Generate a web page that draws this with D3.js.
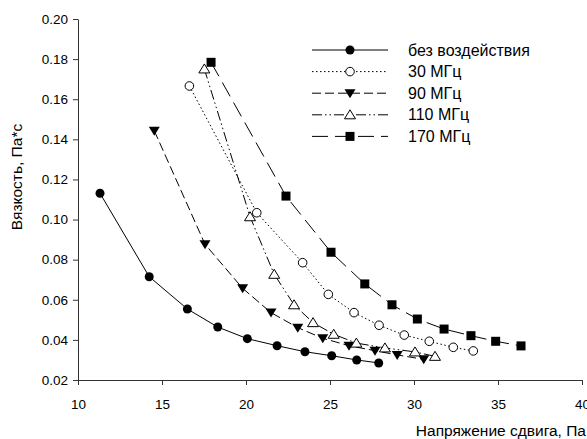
<!DOCTYPE html>
<html><head><meta charset="utf-8">
<script src="https://cdn.jsdelivr.net/npm/d3@7"></script>
<style>body{margin:0;background:#fff}svg{display:block}text{font-family:"Liberation Sans",Arial,sans-serif;fill:#000}</style>
</head><body><svg id="c" width="587" height="439"></svg>
<script>
const seriesNames = ["без воздействия","30 МГц","90 МГц","110 МГц","170 МГц"];
const x0 = [11.31,14.24,16.51,18.32,20.08,21.85,23.51,25.10,26.59,27.90];
const y0 = [0.1131,0.0715,0.0554,0.0464,0.0406,0.0371,0.0341,0.0321,0.0300,0.0285];
const x30 = [16.63,20.64,23.37,24.90,26.43,27.92,29.42,30.91,32.34,33.53];
const y30 = [0.1666,0.1034,0.0785,0.0627,0.0536,0.0473,0.0424,0.0393,0.0363,0.0345];
const x90 = [14.54,17.56,19.80,21.49,23.08,24.57,26.13,27.68,29.00,30.58];
const y90 = [0.1443,0.0877,0.0657,0.0536,0.0461,0.0408,0.0371,0.0346,0.0325,0.0303];
const x110 = [17.52,20.24,21.68,22.86,23.99,25.22,26.57,28.27,30.06,31.25];
const y110 = [0.1751,0.1014,0.0727,0.0575,0.0486,0.0428,0.0384,0.0360,0.0340,0.0318];
const x170 = [17.92,22.38,25.06,27.07,28.69,30.20,31.79,33.39,34.86,36.37];
const y170 = [0.1784,0.1117,0.0837,0.0679,0.0575,0.0504,0.0454,0.0421,0.0393,0.0370];
const xTicks = [10,15,20,25,30,35,40];
const yTicks = [0.02,0.04,0.06,0.08,0.10,0.12,0.14,0.16,0.18,0.20];
const xTitle = "Напряжение сдвига, Па";
const yTitle = "Вязкость, Па*с";

const svg = d3.select("#c");
const L=78, R=582, T=19, B=380;
const x = d3.scaleLinear().domain([10,40]).range([L,R]);
const y = d3.scaleLinear().domain([0.02,0.20]).range([B,T]);

const xs=[x0,x30,x90,x110,x170], ys=[y0,y30,y90,y110,y170];
const dashes=[null,"1.5,2.5","9,4","10,3,1.5,3,1.5,3","16,7"];
const markers=["circleF","circleO","triDown","triUp","square"];

function drawMarker(g, type, cx, cy){
  if(type==="circleF") g.append("circle").attr("cx",cx).attr("cy",cy).attr("r",4.5).attr("fill","#000");
  else if(type==="circleO") g.append("circle").attr("cx",cx).attr("cy",cy).attr("r",4.3).attr("fill","#fff").attr("stroke","#000").attr("stroke-width",1);
  else if(type==="triDown") g.append("path").attr("d",`M${cx-5.5},${cy-4}L${cx+5.5},${cy-4}L${cx},${cy+5}Z`).attr("fill","#000");
  else if(type==="triUp") g.append("path").attr("d",`M${cx-5.5},${cy+4}L${cx+5.5},${cy+4}L${cx},${cy-5}Z`).attr("fill","#fff").attr("stroke","#000").attr("stroke-width",1);
  else if(type==="square") g.append("rect").attr("x",cx-4.5).attr("y",cy-4.5).attr("width",9).attr("height",9).attr("fill","#000");
}

// axes
const xa = svg.append("g").attr("transform",`translate(0,${B})`).call(d3.axisBottom(x).tickValues(xTicks).tickSize(5).tickSizeOuter(0).tickFormat(d3.format("d")));
const ya = svg.append("g").attr("transform",`translate(${L},0)`).call(d3.axisLeft(y).tickValues(yTicks).tickSize(5).tickSizeOuter(0).tickFormat(d3.format(".2f")));
[xa,ya].forEach(a=>{a.select(".domain").attr("stroke","#333");a.selectAll(".tick line").attr("stroke","#333");a.selectAll("text").style("font-size","13.5px").attr("fill","#000").style("font-family","Liberation Sans, Arial, sans-serif");});
xa.selectAll("text").attr("y",0).attr("dy",0).attr("transform","translate(0,29)");
ya.selectAll("text").attr("x",-10);

svg.append("text").attr("x",586).attr("y",436).attr("text-anchor","end").style("font-size","15.5px").text(xTitle);
svg.append("text").attr("transform","translate(22,177) rotate(-90)").attr("text-anchor","middle").style("font-size","15.5px").text(yTitle);

const line = d3.line().x(d=>x(d[0])).y(d=>y(d[1]));
const g = svg.append("g");
xs.forEach((xv,i)=>{
  const pts = xv.map((v,j)=>[v,ys[i][j]]);
  g.append("path").attr("d",line(pts)).attr("fill","none").attr("stroke","#000").attr("stroke-width",1).attr("stroke-dasharray",dashes[i]);
});
xs.forEach((xv,i)=>{
  xv.forEach((v,j)=>drawMarker(g,markers[i],x(v),y(ys[i][j])));
});

// legend
const lg = svg.append("g");
seriesNames.forEach((n,i)=>{
  const cy = 50 + i*21.6;
  lg.append("line").attr("x1",312).attr("x2",388).attr("y1",cy).attr("y2",cy).attr("stroke","#000").attr("stroke-width",1).attr("stroke-dasharray",dashes[i]);
  drawMarker(lg,markers[i],350,cy);
  lg.append("text").attr("x",408).attr("y",cy+5.5).style("font-size","16px").text(n);
});
</script></body></html>
